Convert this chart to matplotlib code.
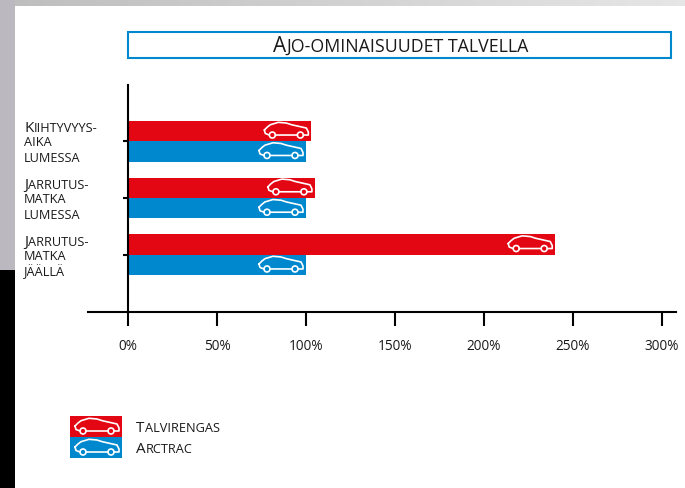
import numpy as np
import matplotlib
matplotlib.use("Agg")
import matplotlib.pyplot as plt
from matplotlib.path import Path
from matplotlib.patches import PathPatch, Rectangle
from matplotlib.transforms import IdentityTransform

W, H = 685, 489
RED, BLUE, INK = "#e30613", "#0088ce", "#1a1a1a"
plt.rcParams["font.family"] = ["Open Sans", "DejaVu Sans"]

categories = [("Kiihtyvyys-", "aika", "lumessa"),
              ("Jarrutus-", "matka", "lumessa"),
              ("Jarrutus-", "matka", "jäällä")]
talvirengas = [103, 105, 240]
arctrac = [100, 100, 100]
xticks = [0, 50, 100, 150, 200, 250, 300]
xticklabels = ["0%", "50%", "100%", "150%", "200%", "250%", "300%"]
title = "Ajo-ominaisuudet talvella"
legend_labels = ["Talvirengas", "Arctrac"]

fig = plt.figure(figsize=(W / 100, H / 100), dpi=100, facecolor="white")

# page background
bg = fig.add_axes([0, 0, 1, 1], zorder=0)
bg.imshow(np.linspace(0.74, 0.90, 256).reshape(1, -1), cmap="gray", vmin=0, vmax=1,
          extent=(0, W, 7, 0), aspect="auto", interpolation="bilinear")
bg.set_xlim(0, W); bg.set_ylim(H, 0); bg.axis("off")
bg.add_patch(Rectangle((0, 0), 15, 271, fc="#bbb8bf", ec="none"))
bg.add_patch(Rectangle((0, 271), 15, H - 271, fc="black", ec="none"))
bg.add_patch(Rectangle((128.5, 32.5), 543, 26, fc="white", ec=BLUE, lw=1.5))
for i, c in enumerate([RED, BLUE]):
    bg.add_patch(Rectangle((70, 417 + 21 * i), 52, 21, fc=c, ec="none"))

# chart axes
ax = fig.add_axes([87.5 / W, 1 - 312.5 / H, (676 - 87) / W, (312 - 85) / H], zorder=1)
ax.patch.set_alpha(0)
ax.set_xlim((87 - 127.5) / 1.78, (676 - 127.5) / 1.78)
ax.set_ylim(3.0, -1.0)
y = np.arange(len(categories))
h = 0.36
ax.barh(y - h / 2, talvirengas, height=h, color=RED, label=legend_labels[0])
ax.barh(y + h / 2, arctrac, height=h, color=BLUE, label=legend_labels[1])
for s in ("top", "right"):
    ax.spines[s].set_visible(False)
ax.spines["left"].set_position(("data", 0))
ax.spines["left"].set_linewidth(1.5)
ax.spines["bottom"].set_linewidth(1.5)
ax.set_yticks(y)
ax.set_yticklabels([])
ax.tick_params(axis="y", length=3.6, width=1.5, color="black")
ax.set_xticks(xticks)
ax.set_xticklabels(xticklabels, fontsize=9.8, color=INK)
ax.tick_params(axis="x", length=10, width=1.5, color="black", pad=9)

overlay = fig.add_axes([0, 0, 1, 1], zorder=2)
overlay.set_xlim(0, W); overlay.set_ylim(H, 0); overlay.axis("off")

# car outline, in pixels, right end at x=0, wheel base at y=0
car_xy = [(-44, -5), (-41, -8), (-38, -10.3), (-30, -12.7), (-22, -12), (-16.7, -10.3), (-2, -7),
          (0, -3), (0, 0), (-5, 0)]
car_line = [(-11, 0), (-33, 0)]
car_front = [(-39, 0), (-43, -1.5), (-44, -5)]
wheels = [-8, -36]


def draw_car(px, py):
    verts = [(px + a, py + b) for a, b in car_xy + car_line + car_front]
    codes = [Path.MOVETO] + [Path.LINETO] * (len(car_xy) - 1)
    codes += [Path.MOVETO, Path.LINETO, Path.MOVETO, Path.LINETO, Path.LINETO]
    overlay.add_patch(PathPatch(Path(verts, codes), fc="none", ec="white", lw=1.2,
                                joinstyle="round", capstyle="round"))
    for wx in wheels:
        overlay.add_patch(plt.Circle((px + wx, py), 3.0, fc="none", ec="white", lw=1.2))


fig.canvas.draw()
for vals, off in ((talvirengas, -h / 2), (arctrac, h / 2)):
    for v, yy in zip(vals, y):
        xp, yp = ax.transData.transform((v, yy + off))
        draw_car(xp - 3, H - yp + 4)
for i in range(2):
    draw_car(119, 417 + 21 * i + 15)


def small_caps(px, base, text, big, small, center=False):
    """Small-caps text: capitals at size big, everything else upper-cased at size small."""
    r = fig.canvas.get_renderer()
    runs = []
    for ch in text:
        is_big = ch.isupper()
        if runs and runs[-1][1] == is_big:
            runs[-1][0] += ch
        else:
            runs.append([ch, is_big])
    arts = []
    x = px
    for s, is_big in runs:
        t = fig.text(x, H - base, s.upper(), transform=IdentityTransform(),
                     fontsize=big if is_big else small,
                     color=INK, va="baseline", ha="left")
        x += t.get_window_extent(r).width + 0.3
        arts.append(t)
    if center:
        shift = (x - px) / 2
        for t in arts:
            tx, ty = t.get_position()
            t.set_position((tx - shift, ty))


small_caps(401, 52, title, 15, 12.8, center=True)
for (a, b, c), yy in zip(categories, y):
    yc = H - ax.transData.transform((0, yy))[1]
    for line, dy in zip((a, b, c), (-10, 4, 20)):
        small_caps(24, yc + dy, line, 11, 9.2)
for i, lab in enumerate(legend_labels):
    small_caps(136, 432 + 21 * i, lab, 11, 9.2)

fig.savefig("out.png", dpi=100, facecolor="white")
